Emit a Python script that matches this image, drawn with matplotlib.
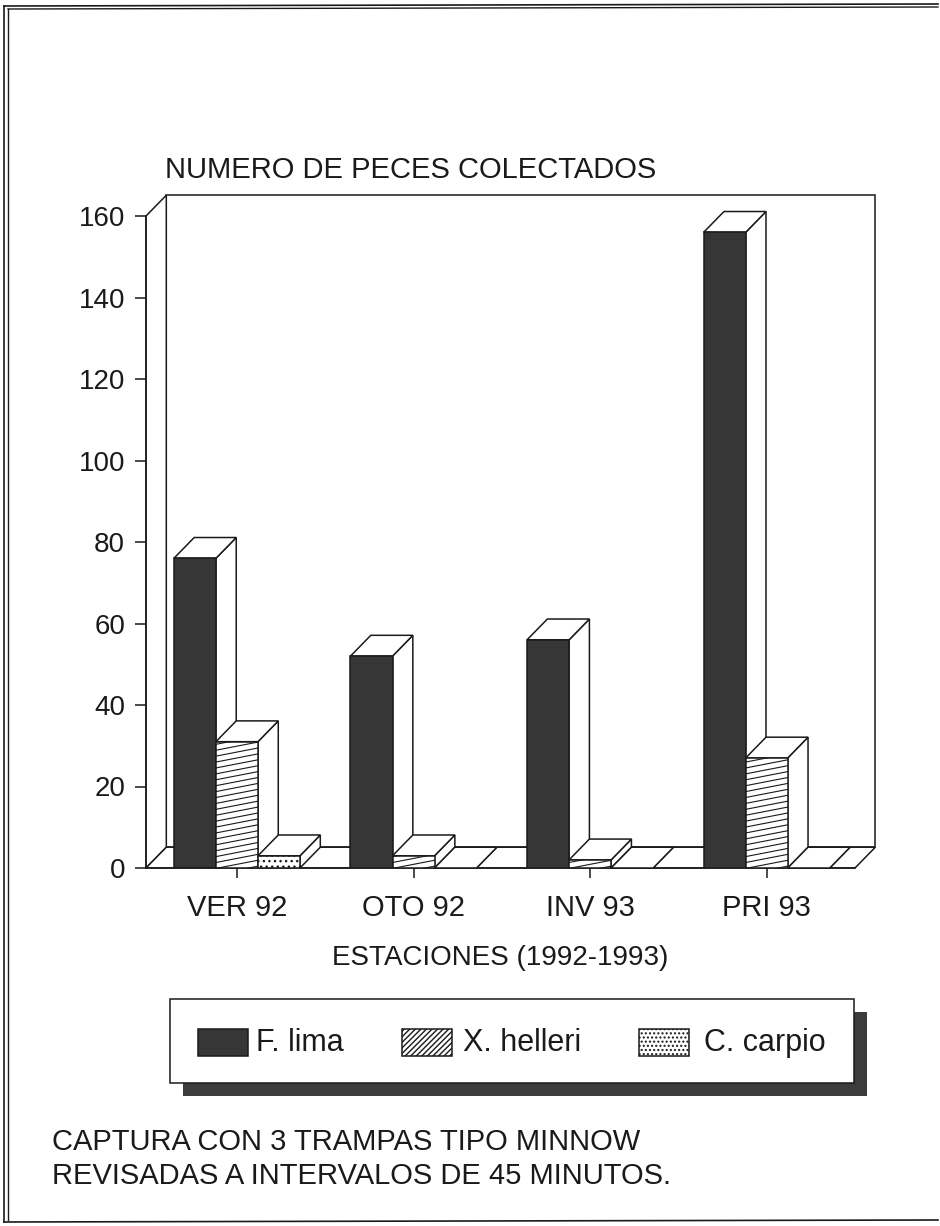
import matplotlib
matplotlib.use("Agg")
import matplotlib.pyplot as plt
from matplotlib.patches import Polygon, Rectangle
import numpy as np

# data
estaciones = ["VER 92", "OTO 92", "INV 93", "PRI 93"]
especies = ["F. lima", "X. helleri", "C. carpio"]
f_lima = [76, 52, 56, 156]
x_helleri = [31, 3, 2, 27]
c_carpio = [3, 0, 0, 0]
yticks = [0, 20, 40, 60, 80, 100, 120, 140, 160]

titulo = "NUMERO DE PECES COLECTADOS"
xlabel = "ESTACIONES (1992-1993)"
nota = "CAPTURA CON 3 TRAMPAS TIPO MINNOW\nREVISADAS A INTERVALOS DE 45 MINUTOS."

plt.rcParams["font.family"] = ["Liberation Sans", "DejaVu Sans"]

W, H = 940, 1226
fig = plt.figure(figsize=(W / 100, H / 100), dpi=100)
fig.patch.set_facecolor("white")

# axes placed in pixels: y axis at x=146, zero at y=868, 160 at y=216
ax = fig.add_axes([146 / W, (H - 868) / H, (855 - 146) / W, (868 - 216) / H])
ax.set_xlim(-0.515, 3.5)
ax.set_ylim(0, 160)
ax.patch.set_alpha(0)

ddx, ddy = 0.115, 5.1   # depth of the fake 3d
lw = 1.1
ink = "#1a1a1a"

x0, x1 = ax.get_xlim()
ytop = ax.get_ylim()[1]

# back wall, left wall, floor
ax.add_patch(Polygon([(x0 + ddx, ddy), (x1 + ddx, ddy), (x1 + ddx, ytop + ddy), (x0 + ddx, ytop + ddy)],
                     closed=True, fc="white", ec=ink, lw=lw, clip_on=False, zorder=1))
ax.add_patch(Polygon([(x0, 0), (x0 + ddx, ddy), (x0 + ddx, ytop + ddy), (x0, ytop)],
                     closed=True, fc="white", ec=ink, lw=lw, clip_on=False, zorder=1))
ax.add_patch(Polygon([(x0, 0), (x1, 0), (x1 + ddx, ddy), (x0 + ddx, ddy)],
                     closed=True, fc="white", ec=ink, lw=lw, clip_on=False, zorder=1))

bw = 0.238
series = [f_lima, x_helleri, c_carpio]
z = 2
for i, est in enumerate(estaciones):
    for k, vals in enumerate(series):
        h = vals[i]
        left = i + (k - 1) * bw - bw / 2
        right = left + bw
        # right side face
        ax.add_patch(Polygon([(right, 0), (right + ddx, ddy), (right + ddx, h + ddy), (right, h)],
                             closed=True, fc="white", ec=ink, lw=lw, clip_on=False, zorder=z))
        # top face
        ax.add_patch(Polygon([(left, h), (right, h), (right + ddx, h + ddy), (left + ddx, h + ddy)],
                             closed=True, fc="white", ec=ink, lw=lw, clip_on=False, zorder=z))
        # front face
        if k == 0:
            ax.bar(left, h, width=bw, align="edge", color="#363636", edgecolor=ink, lw=lw, zorder=z)
        elif k == 1:
            b = ax.bar(left, h, width=bw, align="edge", color="white", edgecolor=ink, lw=lw, zorder=z)[0]
            # thin slanted hatch lines
            for yy in np.arange(-3, h + 1, 1.45):
                ln, = ax.plot([left, right], [yy, yy + 2.0], color=ink, lw=0.8, zorder=z)
                ln.set_clip_path(b)
        else:
            if h > 0:
                ax.bar(left, h, width=bw, align="edge", color="white", edgecolor=ink, lw=lw,
                       hatch="...", zorder=z)
        z += 1

for s in ["top", "right"]:
    ax.spines[s].set_visible(False)
ax.spines["left"].set_color(ink)
ax.spines["bottom"].set_color(ink)
ax.spines["left"].set_linewidth(lw)
ax.spines["bottom"].set_linewidth(lw)
ax.spines["left"].set_zorder(50)

ax.set_yticks(yticks)
ax.set_yticklabels([str(v) for v in yticks], fontsize=20)
ax.set_xticks(range(len(estaciones)))
ax.set_xticklabels(estaciones, fontsize=21)
ax.tick_params(axis="y", direction="out", length=8, width=lw, color=ink, pad=7, labelcolor=ink)
ax.tick_params(axis="x", direction="out", length=7, width=lw, color=ink, pad=12, labelcolor=ink)
ax.set_xlabel(xlabel, fontsize=20, color=ink, labelpad=16)

fig.text(165 / W, 1 - 170 / H, titulo, fontsize=21, color=ink, va="center", ha="left")

# legend box with drop shadow
lg = fig.add_axes([0, 0, 1, 1], zorder=5)
lg.set_xlim(0, W)
lg.set_ylim(H, 0)
lg.axis("off")
lg.patch.set_alpha(0)
lg.add_patch(Rectangle((183, 1012), 684, 84, fc="#3c3c3c", ec="none"))
lg.add_patch(Rectangle((170, 999), 684, 84, fc="white", ec=ink, lw=lw))
leg_x = [[198, 256], [402, 463], [639, 704]]
styles = [dict(fc="#363636", hatch=None), dict(fc="white", hatch="//////"), dict(fc="white", hatch="....")]
for (px, tx), nombre, st in zip(leg_x, especies, styles):
    lg.add_patch(Rectangle((px, 1029), 50, 27, ec=ink, lw=lw, **st))
    lg.text(tx, 1043, nombre, fontsize=22, color=ink, va="center", ha="left")

lg.text(52, 1159, nota, fontsize=21, color=ink, va="center", ha="left", linespacing=1.25)

# scanned page frame
lg.plot([4, 4], [6, 1222], color=ink, lw=1.2)
lg.plot([8, 8], [9, 1220], color=ink, lw=1.0)
lg.plot([4, 938], [6, 4], color=ink, lw=1.2)
lg.plot([8, 938], [9, 7], color=ink, lw=1.0)
lg.plot([4, 938], [1222, 1220], color=ink, lw=1.2)

fig.savefig("out.png", dpi=100, facecolor="white")
